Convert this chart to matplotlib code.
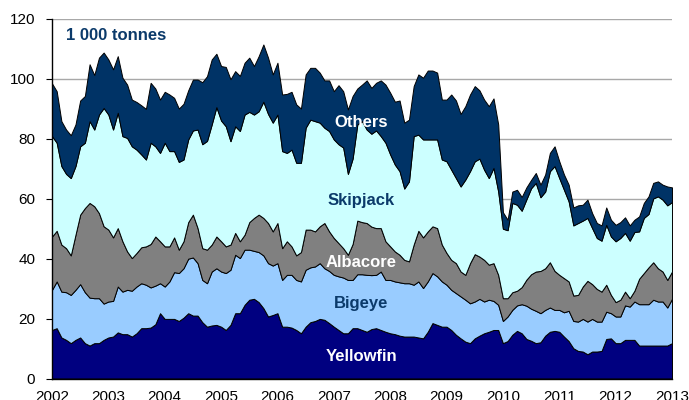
import numpy as np
import matplotlib
matplotlib.use("Agg")
import matplotlib.pyplot as plt

plt.rcParams["font.family"] = ["Liberation Sans", "DejaVu Sans"]

# monthly catches, 1 000 tonnes, Jan 2002 .. Jan 2013
yellowfin = [
    16.2, 16.8, 13.7, 12.9, 11.8, 12.9, 13.7, 11.8, 11.0, 11.8, 11.8, 12.9,
    13.7, 14.0, 15.4, 14.8, 14.8, 14.0, 15.1, 16.8, 16.8, 17.0, 18.1, 21.8,
    19.9, 19.9, 19.9, 19.2, 20.3, 21.8, 21.0, 21.0, 18.8, 17.3, 17.7,
    17.9, 17.3, 16.2, 17.9, 21.8, 21.8, 24.6, 26.3, 26.6, 25.5, 23.5, 20.7,
    21.2, 21.8, 17.3, 17.3, 17.0, 16.2, 15.1, 17.3, 18.8, 19.2, 19.9, 19.6,
    18.5, 17.3, 16.2, 15.1, 15.1, 16.8, 16.8, 16.2, 15.6, 16.5,
    16.8, 16.2, 15.6, 15.1, 14.8, 14.3, 14.0, 14.0, 14.0, 13.7, 13.4, 15.6,
    18.5, 17.9, 17.3, 17.3, 16.2, 14.6, 13.4, 12.3, 11.8, 13.4, 14.3, 15.1,
    15.6, 16.2, 16.2, 11.8, 12.5, 14.6, 15.9, 15.1, 13.2, 12.6,
    11.8, 12.1, 14.3, 15.6, 15.9, 15.6, 14.0, 12.5, 10.1, 9.2, 9.0, 8.1,
    9.0, 9.0, 9.2, 13.2, 13.4, 11.8, 11.8, 12.9, 12.9, 12.9, 11.0, 11.0,
    11.0, 11.0, 11.0, 11.0, 11.0, 11.8,
]
bigeye = [
    13.4, 15.6, 15.3, 15.9, 16.1, 16.7, 17.8, 17.0, 16.0, 15.0, 15.0, 12.1,
    12.0, 11.9, 15.3, 14.2, 14.8, 15.3, 15.6, 15.0, 14.5, 13.4, 12.9, 10.0,
    10.8, 12.5, 15.6, 16.0, 16.5, 18.2, 19.4, 17.5, 14.1, 14.5, 18.0,
    18.9, 18.4, 19.0, 18.4, 19.5, 18.4, 18.4, 16.7, 16.0, 16.7, 17.6, 17.8,
    16.5, 16.7, 15.6, 17.3, 17.6, 16.7, 17.3, 19.0, 18.3, 18.2, 18.6, 17.2,
    17.4, 17.3, 17.9, 18.6, 17.8, 16.1, 18.0, 18.6, 19.0, 18.0,
    17.8, 19.5, 17.3, 17.8, 17.6, 17.8, 17.8, 17.8, 17.3, 18.7, 16.8, 16.8,
    16.7, 16.2, 15.1, 14.0, 13.4, 13.9, 14.0, 14.0, 13.3, 12.3, 12.3, 10.6,
    10.7, 9.7, 8.4, 7.4, 8.2, 8.3, 8.5, 9.7, 11.1, 10.7,
    10.8, 9.7, 8.6, 8.1, 7.0, 7.3, 8.1, 10.1, 9.1, 9.8, 10.9, 10.9,
    10.9, 10.0, 9.8, 9.1, 8.4, 8.9, 8.9, 11.5, 11.1, 12.8, 13.8, 13.8,
    13.8, 15.3, 14.7, 14.7, 12.7, 14.8,
]
albacore = [
    17.8, 16.9, 15.7, 14.7, 13.2, 18.4, 23.2, 28.1, 31.6, 30.7, 28.4, 25.8,
    24.0, 21.2, 19.5, 16.8, 12.8, 10.9, 11.2, 12.0, 12.8, 14.5, 16.4, 14.0,
    13.4, 11.7, 11.6, 7.8, 9.0, 12.2, 14.3, 11.7, 10.6, 11.2, 9.0,
    10.6, 10.1, 8.9, 8.4, 7.3, 5.6, 5.0, 9.2, 11.0, 12.5, 12.5, 13.4,
    11.4, 13.4, 10.6, 11.2, 9.5, 8.2, 9.8, 13.4, 12.6, 11.7, 12.3, 15.1,
    13.2, 12.3, 11.1, 9.8, 8.4, 12.0, 17.9, 17.4, 17.3, 16.2,
    15.6, 14.5, 12.9, 11.2, 10.0, 9.2, 7.8, 7.3, 13.4, 16.9, 16.9, 16.7,
    15.6, 16.1, 12.3, 10.6, 10.0, 10.0, 8.3, 8.3, 13.4, 15.8, 14.1, 13.9,
    11.7, 12.6, 10.0, 7.6, 6.1, 5.9, 4.9, 5.7, 8.7, 11.5,
    13.1, 14.1, 13.9, 15.1, 13.0, 11.7, 11.4, 9.8, 8.5, 8.9, 10.8, 13.6,
    11.6, 10.9, 10.0, 9.0, 6.1, 4.8, 5.6, 4.6, 2.8, 3.6, 8.5, 10.4,
    12.3, 12.5, 11.1, 10.0, 9.2, 9.1,
]
skipjack = [
    33.5, 29.4, 26.2, 24.8, 25.8, 22.9, 22.8, 21.8, 27.3, 25.6, 32.9, 39.5,
    38.4, 36.0, 38.5, 35.1, 37.9, 37.3, 34.5, 31.0, 29.0, 33.8, 30.1, 29.5,
    34.6, 31.8, 28.8, 29.3, 27.3, 27.6, 28.1, 32.9, 34.7, 36.3, 40.1,
    43.2, 40.3, 40.1, 34.5, 35.6, 36.8, 40.1, 36.8, 34.5, 34.5, 38.8, 36.4,
    36.3, 36.2, 32.4, 29.5, 32.3, 30.9, 29.8, 34.0, 36.7, 36.8, 34.6, 31.8,
    33.5, 32.9, 33.0, 33.6, 27.0, 28.5, 32.1, 33.7, 31.2, 31.0,
    32.6, 30.7, 32.9, 30.7, 29.0, 27.9, 23.8, 26.7, 36.2, 32.1, 32.7, 30.7,
    29.0, 29.6, 28.4, 30.6, 30.1, 28.4, 28.4, 31.8, 30.7, 31.0, 32.7, 30.1,
    28.9, 31.8, 27.8, 23.2, 22.7, 29.8, 28.7, 25.5, 26.8, 28.7,
    29.6, 24.6, 25.6, 30.4, 35.0, 32.3, 29.5, 26.7, 23.4, 24.0, 22.0, 21.0,
    18.7, 17.0, 17.0, 20.0, 19.5, 20.3, 20.6, 19.6, 19.2, 19.6, 15.8, 18.4,
    17.8, 21.3, 24.0, 24.0, 24.9, 23.2,
]
others = [
    17.6, 17.2, 15.0, 14.8, 14.3, 13.9, 15.3, 15.6, 19.0, 18.2, 19.0, 18.5,
    18.4, 20.1, 18.9, 19.5, 17.8, 15.6, 15.9, 16.4, 16.9, 20.0, 19.3, 17.8,
    17.0, 18.9, 17.8, 17.8, 18.6, 16.4, 17.0, 16.7, 20.7, 21.6, 21.7,
    17.8, 18.2, 19.8, 20.7, 18.4, 18.4, 17.3, 18.1, 16.2, 18.4, 19.1, 18.8,
    16.1, 17.3, 18.9, 19.7, 19.3, 19.5, 18.1, 17.8, 17.3, 17.8, 16.7, 15.8,
    16.9, 16.1, 19.7, 18.8, 21.5, 20.9, 12.0, 12.2, 16.4, 15.3,
    15.9, 18.6, 19.4, 20.6, 21.0, 23.6, 22.0, 20.6, 16.7, 20.1, 20.6, 23.0,
    23.0, 22.3, 20.0, 20.6, 25.1, 25.9, 24.2, 24.5, 25.6, 25.1, 22.8, 23.4,
    24.0, 23.2, 22.4, 5.5, 3.5, 3.8, 5.0, 4.6, 4.0, 2.8,
    3.3, 4.2, 5.7, 6.1, 6.6, 5.6, 5.1, 5.6, 6.0, 5.9, 5.3, 6.1,
    5.0, 5.0, 5.1, 5.8, 5.6, 5.5, 5.3, 5.2, 5.1, 4.1, 5.0, 5.0,
    5.9, 5.2, 5.0, 5.0, 6.3, 4.9,
]

species = ["Yellowfin", "Bigeye", "Albacore", "Skipjack", "Others"]
colours = ["#000080", "#99CCFF", "#808080", "#CCFFFF", "#003366"]
years = list(range(2002, 2014))

months = 2002 + np.arange(len(yellowfin)) / 12

fig = plt.figure(figsize=(6.89, 4.0), dpi=100)
ax = fig.add_axes([52 / 689, 21.5 / 400, 620 / 689, 359.5 / 400])

ax.stackplot(months, yellowfin, bigeye, albacore, skipjack, others,
             colors=colours, edgecolor="black", linewidth=0.7)

ax.set_xlim(2002, 2013)
ax.set_ylim(0, 120)
ax.set_yticks(range(0, 121, 20))
ax.set_xticks(years)
ax.set_xticklabels([str(y) for y in years])
ax.yaxis.grid(True, color="#a8a8a8", linewidth=1.0)
ax.set_axisbelow(True)

for side in ["top", "right"]:
    ax.spines[side].set_visible(False)
ax.spines["left"].set_linewidth(1.0)
ax.spines["bottom"].set_linewidth(1.0)
ax.tick_params(axis="y", length=4, width=0.8, pad=8, labelsize=11)
ax.tick_params(axis="x", length=0, pad=8, labelsize=11)

ax.text(2002.24, 112.9, "1 000 tonnes", color="#0b3a6a", fontsize=12,
        fontweight="bold", va="baseline")

# labels on the bands (text colour, baseline height)
label_style = {
    "Others": ("white", 84.0),
    "Skipjack": ("#0b3a6a", 58.0),
    "Albacore": ("white", 37.3),
    "Bigeye": ("#0b3a6a", 23.6),
    "Yellowfin": ("white", 5.9),
}
for name in species:
    col, yb = label_style[name]
    ax.text(2007.49, yb, name, color=col, fontsize=12, fontweight="bold",
            ha="center", va="baseline")

fig.savefig("out.png", dpi=100)
